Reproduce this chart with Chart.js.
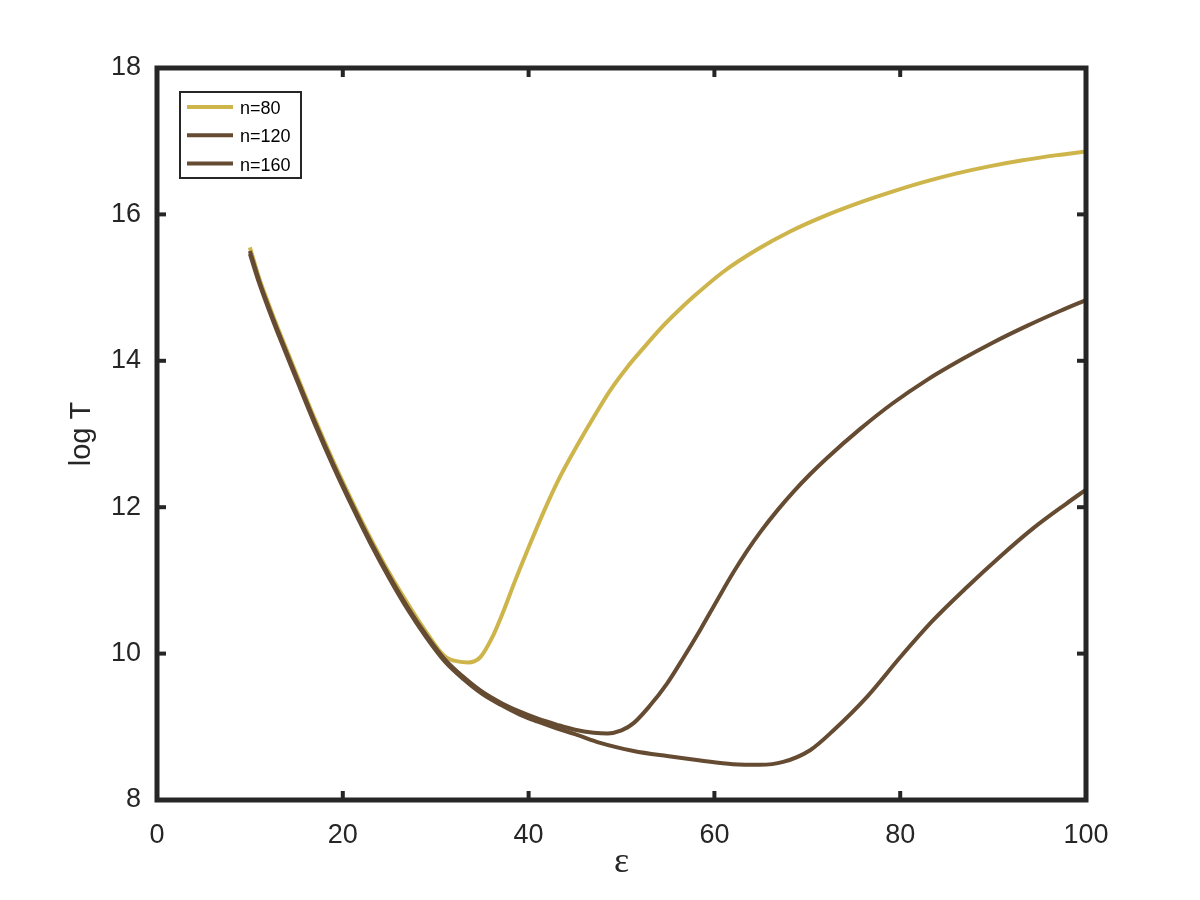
<!DOCTYPE html>
<html><head><meta charset="utf-8">
<script src="https://cdn.jsdelivr.net/npm/chart.js@4/dist/chart.umd.min.js"></script>
<style>html,body{margin:0;padding:0;background:#fff}#wrap{width:1200px;height:900px}</style>
</head><body><div id="wrap"><canvas id="c" width="1200" height="900"></canvas></div>
<script>
const seriesLabels = ['n=80', 'n=120', 'n=160'];
const seriesColors = ['#CEB54B', '#654B32', '#654B32'];

const eps80  = [10, 11, 12, 13, 15, 17, 19, 21, 23, 25, 27, 29, 31, 32.5, 33.5, 34.8, 36, 37.2, 38.5, 40, 41.6, 43.4, 45.3, 47, 48.8, 50.6, 52.4, 54.2, 56, 57.7, 61, 64.6, 68.2, 71.7, 75.4, 78.9, 82.5, 86.1, 89.7, 93.2, 96.9, 100];
const logT80 = [15.55, 15.13, 14.78, 14.45, 13.82, 13.20, 12.62, 12.08, 11.57, 11.10, 10.68, 10.29, 9.96, 9.89, 9.88, 9.95, 10.20, 10.55, 10.98, 11.45, 11.93, 12.42, 12.86, 13.23, 13.60, 13.91, 14.18, 14.44, 14.67, 14.87, 15.22, 15.52, 15.77, 15.97, 16.15, 16.30, 16.44, 16.56, 16.66, 16.74, 16.81, 16.86];

const eps120  = [10, 11, 12, 13, 15, 17, 19, 21, 23, 25, 27, 29, 31, 33, 35, 37, 39, 41, 43, 45, 47, 48.5, 50, 51.3, 53, 54.9, 56.7, 58.5, 60.3, 62, 63.5, 65, 66.8, 68.5, 70.3, 72.1, 75.7, 79.2, 82.9, 86.5, 90, 93.7, 97.2, 100];
const logT120 = [15.50, 15.09, 14.74, 14.41, 13.78, 13.16, 12.58, 12.04, 11.53, 11.06, 10.63, 10.25, 9.92, 9.68, 9.48, 9.33, 9.21, 9.11, 9.03, 8.96, 8.92, 8.91, 8.95, 9.05, 9.28, 9.59, 9.95, 10.33, 10.73, 11.10, 11.40, 11.67, 11.96, 12.21, 12.45, 12.67, 13.07, 13.42, 13.74, 14.01, 14.25, 14.48, 14.68, 14.83];

const eps160  = [10, 11, 12, 13, 15, 17, 19, 21, 23, 25, 27, 29, 31, 33, 35, 37, 39, 41, 43, 45, 47.7, 51.3, 54.9, 58.5, 62, 64.9, 67.4, 70.3, 72.8, 76.5, 80, 83.5, 87.2, 90.8, 94.3, 97.9, 100];
const logT160 = [15.46, 15.06, 14.71, 14.38, 13.75, 13.13, 12.55, 12.01, 11.50, 11.03, 10.60, 10.22, 9.89, 9.65, 9.45, 9.30, 9.17, 9.07, 8.98, 8.90, 8.78, 8.67, 8.60, 8.54, 8.49, 8.48, 8.52, 8.68, 8.95, 9.42, 9.95, 10.45, 10.91, 11.33, 11.71, 12.05, 12.24];

const xTicks = [0, 20, 40, 60, 80, 100];
const yTicks = [8, 10, 12, 14, 16, 18];

const toPts = (xs, ys) => xs.map((x, i) => ({x: x, y: ys[i]}));
const allX = [eps80, eps120, eps160];
const allY = [logT80, logT120, logT160];

const INK = '#262626';
Chart.defaults.font.family = "'Liberation Sans', Arial, Helvetica, sans-serif";
Chart.defaults.color = INK;

const framePlugin = {
  id: 'frame',
  afterDatasetsDraw(chart) {
    const {ctx, chartArea: a, scales: {x, y}} = chart;
    ctx.save();
    ctx.strokeStyle = INK;
    ctx.lineWidth = 4;
    const L = 9;
    const seg = (x1, y1, x2, y2) => { ctx.beginPath(); ctx.moveTo(x1, y1); ctx.lineTo(x2, y2); ctx.stroke(); };
    xTicks.forEach(v => { const p = x.getPixelForValue(v); seg(p, a.bottom, p, a.bottom - L); seg(p, a.top, p, a.top + L); });
    yTicks.forEach(v => { const p = y.getPixelForValue(v); seg(a.left, p, a.left + L, p); seg(a.right, p, a.right - L, p); });
    ctx.lineWidth = 5;
    ctx.strokeRect(a.left, a.top, a.right - a.left, a.bottom - a.top);
    ctx.restore();
  }
};

const legendPlugin = {
  id: 'boxLegend',
  afterDraw(chart) {
    const {ctx, chartArea: a} = chart;
    const bx = a.left + 23, by = a.top + 24, bw = 121, bh = 86;
    ctx.save();
    ctx.fillStyle = '#fff';
    ctx.fillRect(bx, by, bw, bh);
    ctx.strokeStyle = INK;
    ctx.lineWidth = 2;
    ctx.strokeRect(bx, by, bw, bh);
    ctx.font = "18px 'Liberation Sans', Arial, sans-serif";
    ctx.textBaseline = 'middle';
    ctx.textAlign = 'left';
    chart.data.datasets.forEach((ds, i) => {
      const ry = by + 15 + i * 28.3;
      ctx.strokeStyle = ds.borderColor;
      ctx.lineWidth = 4;
      ctx.beginPath(); ctx.moveTo(bx + 7, ry); ctx.lineTo(bx + 53, ry); ctx.stroke();
      ctx.fillStyle = '#000';
      ctx.fillText(ds.label, bx + 60, ry + 2);
    });
    ctx.restore();
  }
};

const bgPlugin = {
  id: 'bg',
  beforeDraw(chart) { const c = chart.ctx; c.save(); c.fillStyle = '#fff'; c.fillRect(0, 0, chart.width, chart.height); c.restore(); }
};

new Chart(document.getElementById('c'), {
  type: 'line',
  data: {
    datasets: seriesLabels.map((lab, i) => ({
      label: lab,
      data: toPts(allX[i], allY[i]),
      borderColor: seriesColors[i],
      backgroundColor: seriesColors[i],
      borderWidth: 4,
      pointRadius: 0,
      fill: false,
      cubicInterpolationMode: 'monotone',
      order: 3 - i
    }))
  },
  options: {
    responsive: false,
    animation: false,
    devicePixelRatio: 1,
    layout: {padding: {left: 0, top: 68, right: 114, bottom: 0}},
    plugins: {legend: {display: false}, tooltip: {enabled: false}},
    scales: {
      x: {
        type: 'linear', min: 0, max: 100,
        afterBuildTicks: s => { s.ticks = xTicks.map(v => ({value: v})); },
        afterFit: s => { s.height = 100; },
        grid: {display: false, drawTicks: false},
        border: {display: false},
        ticks: {padding: 19, font: {size: 27}, color: INK},
        title: {display: true, text: 'ε', font: {size: 36, family: "'Liberation Serif', 'Times New Roman', serif"}, color: INK, padding: {top: 0, bottom: 16}}
      },
      y: {
        type: 'linear', min: 8, max: 18,
        afterBuildTicks: s => { s.ticks = yTicks.map(v => ({value: v})); },
        afterFit: s => { s.width = 157; },
        grid: {display: false, drawTicks: false},
        border: {display: false},
        ticks: {padding: 16, font: {size: 27}, color: INK},
        title: {display: true, text: 'log T', font: {size: 29}, color: INK, padding: {top: 65, bottom: 0}}
      }
    }
  },
  plugins: [bgPlugin, framePlugin, legendPlugin]
});
</script>
</body></html>
